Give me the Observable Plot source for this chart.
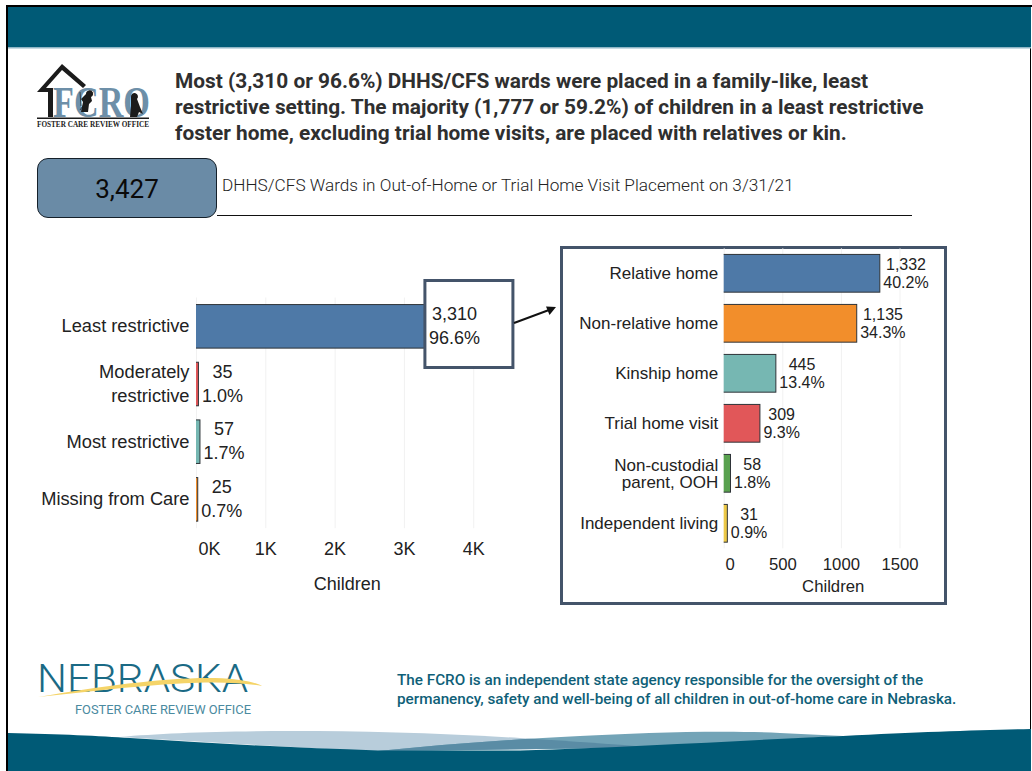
<!DOCTYPE html>
<html>
<head>
<meta charset="utf-8">
<script src="https://cdn.jsdelivr.net/npm/d3@7"></script>
<script src="https://cdn.jsdelivr.net/npm/@observablehq/plot@0.6"></script>
<style>
html,body{margin:0;padding:0;background:#fff;}
#page{position:relative;width:1032px;height:771px;overflow:hidden;font-family:Roboto,sans-serif;}
#page>*{position:absolute;}
.head{left:175px;top:68px;font-weight:700;font-size:20.85px;line-height:26px;color:#2f2f2f;white-space:nowrap;}
.count{left:37px;top:158px;width:178px;height:58px;border:1.5px solid #15202a;border-radius:11px;background:#6a8ba6;color:#0a0a0a;font-size:26px;line-height:60px;text-align:center;}
.sub{left:222px;top:175px;font-weight:300;font-size:17.2px;line-height:20px;color:#222;white-space:nowrap;}
.rule{left:217px;top:214.5px;width:695px;height:1.5px;background:#111;}
.frame{left:559.5px;top:246px;width:381px;height:353px;border:3px solid #44546a;}
.note{left:397px;top:671px;font-weight:500;font-size:15.25px;line-height:19px;color:#0f5f78;white-space:nowrap;}
.chart{margin:0;}
</style>
</head>
<body>
<div id="page">
<svg id="deco" width="1032" height="771" style="left:0;top:0">
  <defs>
    <clipPath id="clipA"><path d="M120,737 C200,730 350,728 520,738 C570,741 610,744 650,747 L378,752 Z"/></clipPath>
  </defs>
  <rect x="6" y="5" width="1026" height="2" fill="#000"/>
  <rect x="6" y="5" width="2" height="766" fill="#000"/>
  <rect x="1030" y="5" width="1" height="766" fill="#000"/>
  <rect x="8" y="7" width="1023" height="40" fill="#005a76"/>
  <rect x="8" y="47" width="1023" height="1.5" fill="#8fb6c6"/>
  <path d="M120,737 C200,730 350,728 520,738 C570,741 610,744 650,747 L378,752 Z" fill="#b8cddb"/>
  <path d="M378,751 C440,745 500,740 580,736 C640,733 720,730 780,733 L843,736 L640,748 Z" fill="#73a4b7"/>
  <path d="M378,751 C440,745 500,740 580,736 C640,733 720,730 780,733 L843,736 L640,748 Z" fill="#5a8ca5" clip-path="url(#clipA)"/>
  <path d="M8,733 C60,734 100,736 130,738 C220,744 300,748 378,750.5 L520,750.5 C640,747 750,740 843,736 C920,732 980,730 1031,729 L1031,771 L8,771 Z" fill="#005a76"/>

  <g id="fcro">
    <path d="M37,92 L62,64 L86,85 L83,88 L62,70 L46,88 L53,88 L53,117 L48,117 L48,92 Z" fill="#1b1b1b"/>
    <text x="53" y="117" font-family="'Liberation Serif',serif" font-weight="700" font-size="45" fill="#6d8fa8" textLength="97" lengthAdjust="spacingAndGlyphs">FCRO</text>
    <path d="M80,92 L81,106 M93,92 L80,110" stroke="#1b1b1b" stroke-width="0.7" fill="none"/>
    <path d="M86,94 a3.5,3.5 0 1 1 5,3 L92,101 L89,104 L88,112 L81,112 L83,102 L81,99 Z" fill="#1b1b1b"/>
    <path d="M131,97 a3.5,3.5 0 1 1 6,2 L140,107 L143,114 L139,112 L137,117 L130,117 L131,106 Z" fill="#1b1b1b"/>
    <rect x="37" y="117.5" width="112" height="1.5" fill="#1b1b1b"/>
    <text x="37" y="126.5" font-family="'Liberation Serif',serif" font-weight="700" font-size="7.6" fill="#1b1b1b" textLength="112" lengthAdjust="spacingAndGlyphs">FOSTER CARE REVIEW OFFICE</text>
  </g>

  <g id="nebraska">
    <text x="37" y="692" font-family="Roboto,sans-serif" font-weight="300" font-size="38" fill="#1a6a85" textLength="211" lengthAdjust="spacingAndGlyphs">NEBRASKA</text>
    <path d="M38,697 C100,686 170,677 215,678 C240,679 255,682 262,686 C245,683 225,682 205,682.5 C150,684 95,691 38,697 Z" fill="#f5d468"/>
    <text x="75" y="714" font-family="Roboto,sans-serif" font-weight="400" font-size="12.5" fill="#4a8aa0" textLength="176" lengthAdjust="spacingAndGlyphs">FOSTER CARE REVIEW OFFICE</text>
  </g>
</svg>

<div class="head">Most (3,310 or 96.6%) DHHS/CFS wards were placed in a family-like, least<br>restrictive setting. The majority (1,777 or 59.2%) of children in a least restrictive<br>foster home, excluding trial home visits, are placed with relatives or kin.</div>
<div class="rule"></div>
<div class="count">3,427</div>
<div class="sub">DHHS/CFS Wards in Out-of-Home or Trial Home Visit Placement on 3/31/21</div>
<div class="frame"></div>
<div id="left" class="chart" style="left:0;top:280px"></div>
<div id="right" class="chart" style="left:550px;top:240px"></div>
<svg width="1032" height="771" style="left:0;top:0;pointer-events:none">
  <line x1="514" y1="323" x2="549" y2="310" stroke="#111" stroke-width="2"/>
  <path d="M556,307 L546,306.5 L549.5,315 Z" fill="#111"/>
</svg>
<div class="note">The FCRO is an independent state agency responsible for the oversight of the<br>permanency, safety and well-being of all children in out-of-home care in Nebraska.</div>
</div>

<script>
const leftCategories = ["Least restrictive", "Moderately\nrestrictive", "Most restrictive", "Missing from Care"];
const leftCounts = [3310, 35, 57, 25];
const leftPercents = ["96.6%", "1.0%", "1.7%", "0.7%"];
const leftColors = ["#4e79a7", "#e15759", "#76b7b2", "#f28e2b"];
const leftTicks = [1000, 2000, 3000, 4000];

const rightCategories = ["Relative home", "Non-relative home", "Kinship home", "Trial home visit", "Non-custodial\nparent, OOH", "Independent living"];
const rightCounts = [1332, 1135, 445, 309, 58, 31];
const rightPercents = ["40.2%", "34.3%", "13.4%", "9.3%", "1.8%", "0.9%"];
const rightColors = ["#4e79a7", "#f28e2b", "#76b7b2", "#e15759", "#59a14f", "#edc948"];
const rightTicks = [500, 1000, 1500];

const fmt = d3.format(",");
const ctx = document.createElement("canvas").getContext("2d");
function rows(cats, counts, pcts, cols) {
  return cats.map((c, i) => ({c, n: counts[i], label: fmt(counts[i]) + "\n" + pcts[i], pct: pcts[i], col: cols[i]}));
}
function barChart(o) {
  const data = rows(o.cats, o.counts, o.pcts, o.cols);
  ctx.font = o.fs + "px 'Liberation Sans'";
  return Plot.plot({
    width: o.width, height: o.height,
    marginLeft: o.ml, marginRight: o.mr, marginTop: o.mt, marginBottom: o.mb,
    style: {background: "transparent", color: "#222", fontFamily: "'Liberation Sans',Arial,sans-serif", overflow: "visible"},
    x: {domain: o.domain},
    y: {domain: o.cats, paddingInner: 0.245, paddingOuter: 0.1225, round: false},
    color: {type: "identity"},
    marks: [
      Plot.gridX([0, ...o.ticks], {stroke: "#f1f1f1", strokeOpacity: 1, strokeWidth: 1}),
      Plot.ruleY([o.cats[o.cats.length - 1]], {y: () => null, frameAnchor: "bottom", stroke: "#f1f1f1"}),
      Plot.barX(data, {x: "n", y: "c", fill: "col", stroke: "#2e3338", strokeWidth: 1, insetLeft: -1.5, clip: "frame"}),
      o.over || (() => null),
      ...data.map(d => Plot.text([d], {
        x: "n", y: "c", text: "label", fontSize: o.fs, lineHeight: o.lh, fill: "#222", dy: o.vdy,
        dx: o.gap + Math.max(ctx.measureText(d.pct).width, ctx.measureText(fmt(d.n)).width) / 2
      })),
      Plot.axisY({tickSize: 0, tickPadding: o.tp, fontSize: o.yfs, lineHeight: o.ylh, dy: o.ydy, label: null}),
      Plot.axisX(o.ticks, {tickSize: 0, tickPadding: o.xp, fontSize: o.xfs, tickFormat: o.tf, label: "Children", labelAnchor: "center", labelOffset: o.lo, labelArrow: "none"}),
      Plot.axisX([0], {tickSize: 0, tickPadding: o.xp, fontSize: o.xfs, tickFormat: o.tf, dx: o.zero, label: null})
    ]
  });
}

const boxMark = (index, {x}) => {
  const r = document.createElementNS("http://www.w3.org/2000/svg", "rect");
  const left = x(leftCounts[0]);
  r.setAttribute("x", left - 0.5);
  r.setAttribute("y", 0.5);
  r.setAttribute("width", 88);
  r.setAttribute("height", 87);
  r.setAttribute("fill", "#fff");
  r.setAttribute("stroke", "#44546a");
  r.setAttribute("stroke-width", 3);
  return r;
};

document.getElementById("left").append(barChart({
  cats: leftCategories, counts: leftCounts, pcts: leftPercents, cols: leftColors, ticks: leftTicks,
  width: 520, height: 320, ml: 196, mr: 22.3, mt: 17.5, mb: 71.8, domain: [0, 4353],
  fs: 18, lh: 1.33, yfs: 18.3, ylh: 1.34, ydy: -2.5, vdy: -2.5, gap: 3, tp: 7, xp: 14, xfs: 18, lo: 61, zero: 13,
  tf: d => d / 1000 + "K", over: boxMark
}));
document.getElementById("right").append(barChart({
  cats: rightCategories, counts: rightCounts, pcts: rightPercents, cols: rightColors, ticks: rightTicks,
  width: 410, height: 370, ml: 173.7, mr: 18.3, mt: 8.3, mb: 61.7, domain: [0, 1860],
  fs: 16, lh: 1.1, yfs: 17, ylh: 1.04, ydy: 0, vdy: -0.7, gap: 3, tp: 6, xp: 9, xfs: 16.7, lo: 43, zero: 6,
  tf: d => String(d)
}));
</script>
</body>
</html>
